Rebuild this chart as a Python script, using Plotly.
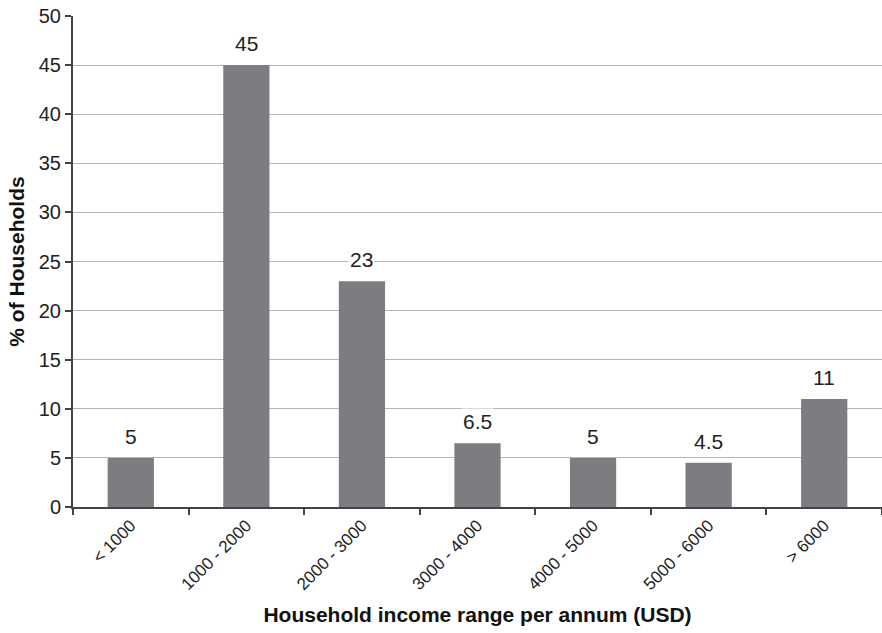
import plotly.graph_objects as go

# Share of households by annual income band
categories = ["< 1000", "1000 - 2000", "2000 - 3000", "3000 - 4000",
              "4000 - 5000", "5000 - 6000", "> 6000"]
households_pct = [5, 45, 23, 6.5, 5, 4.5, 11]
value_labels = ["5", "45", "23", "6.5", "5", "4.5", "11"]

FONT = "Liberation Sans, Arial, sans-serif"
BAR = "#7c7d81"
AXIS = "#444444"
GRID = "#b4b4b4"

fig = go.Figure(go.Bar(
    x=categories,
    y=households_pct,
    marker=dict(color=BAR, line=dict(width=0)),
    hoverinfo="skip",
))

for cat, val, lab in zip(categories, households_pct, value_labels):
    fig.add_annotation(
        x=cat, y=val, text=lab, showarrow=False,
        yanchor="bottom", yshift=8,
        font=dict(family=FONT, size=21, color="#222222"),
        bgcolor="white", borderpad=1,
    )

fig.update_layout(
    width=882, height=633,
    margin=dict(l=73, r=0, t=16, b=126),
    paper_bgcolor="white", plot_bgcolor="white",
    bargap=0.6,
    showlegend=False,
    font=dict(family=FONT, color="#222222"),
)

fig.update_xaxes(
    type="category",
    tickson="boundaries",
    ticks="outside", ticklen=6, tickwidth=1.5, tickcolor=AXIS,
    showline=True, linecolor=AXIS, linewidth=2,
    tickangle=-45,
    tickfont=dict(family=FONT, size=17, color="#222222"),
    title=dict(text="<b>Household income range per annum (USD)</b>",
               font=dict(family=FONT, size=21, color="#111111"),
               standoff=14),
    showgrid=False,
)

fig.update_yaxes(
    range=[0, 50], dtick=5,
    ticks="outside", ticklen=6, tickwidth=1.5, tickcolor=AXIS,
    showline=True, linecolor=AXIS, linewidth=2,
    showgrid=True, gridcolor=GRID, gridwidth=1,
    zeroline=False,
    tickfont=dict(family=FONT, size=20, color="#222222"),
    title=dict(text="<b>% of Households</b>",
               font=dict(family=FONT, size=21, color="#111111"),
               standoff=8),
)

fig.write_html("out.html")
